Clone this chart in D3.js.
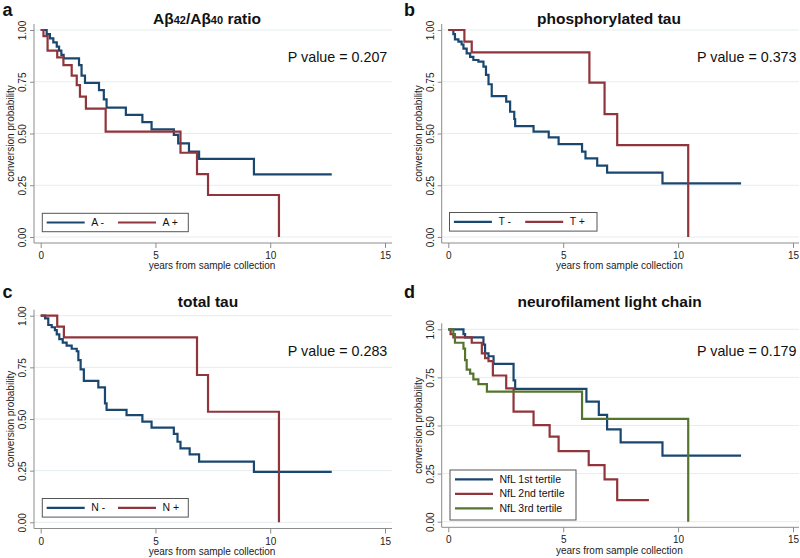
<!DOCTYPE html>
<html>
<head>
<meta charset="utf-8">
<script src="https://cdn.jsdelivr.net/npm/d3@7"></script>
<style>
body { margin: 0; background: #fff; }
svg { display: block; font-family: "Liberation Sans", Arial, sans-serif; }
</style>
</head>
<body>
<svg width="800" height="558"></svg>
<script>
// Kaplan-Meier steps, [years, conversion probability]

// a: Abeta42/40
var aNeg = [[0,1],[0.26,0.98],[0.4,0.96],[0.55,0.94],[0.7,0.92],[0.8,0.9],[0.9,0.88],[1.0,0.863],
    [1.67,0.83],[1.78,0.78],[1.93,0.745],[2.54,0.71],[2.75,0.665],[2.87,0.625],[3.71,0.59],
    [4.43,0.555],[4.83,0.52],[5.8,0.493],[5.99,0.452],[6.46,0.412],[6.9,0.377],[9.29,0.303],[12.68,0.303]];
var aPos = [[0,1],[0.12,0.97],[0.3,0.9],[0.72,0.868],[0.99,0.83],[1.35,0.78],[1.57,0.734],
    [1.71,0.678],[1.97,0.62],[2.83,0.509],[6.09,0.407],[6.81,0.304],[7.29,0.203],[10.38,0]];

// b: phosphorylated tau
var bNeg = [[0,1],[0.22,0.98],[0.29,0.955],[0.44,0.944],[0.58,0.93],[0.66,0.91],[0.8,0.887],[0.95,0.87],
    [1.09,0.855],[1.31,0.847],[1.53,0.823],[1.64,0.783],[1.75,0.738],[1.89,0.681],[2.52,0.654],
    [2.69,0.605],[2.87,0.57],[2.91,0.536],[3.71,0.509],[4.37,0.481],[4.8,0.449],[5.82,0.412],
    [5.97,0.38],[6.48,0.345],[6.91,0.311],[9.32,0.259],[12.74,0.259]];
var bPos = [[0,1],[0.7,0.944],[1.02,0.892],[6.14,0.746],[6.8,0.594],[7.35,0.444],[10.44,0]];

// c: total tau
var cNeg = [[0,1],[0.19,0.987],[0.33,0.955],[0.48,0.944],[0.62,0.93],[0.7,0.91],[0.81,0.887],[0.96,0.87],
    [1.13,0.855],[1.35,0.84],[1.57,0.828],[1.64,0.785],[1.74,0.74],[1.88,0.685],[2.51,0.653],
    [2.8,0.576],[2.87,0.544],[3.74,0.519],[4.43,0.487],[4.83,0.458],[5.8,0.428],[5.96,0.39],
    [6.09,0.358],[6.49,0.329],[6.9,0.294],[9.29,0.244],[12.68,0.244]];
var cPos = [[0,1],[0.72,0.947],[1.01,0.895],[6.81,0.713],[7.29,0.535],[10.38,0]];

// d: NfL tertiles
var dFirst = [[0,1],[0.66,0.975],[0.73,0.958],[1.53,0.92],[1.6,0.875],[1.75,0.86],[1.97,0.82],
    [2.84,0.735],[2.91,0.69],[6.01,0.624],[6.55,0.555],[6.91,0.48],[7.5,0.412],[9.32,0.343],[12.74,0.343]];
var dSecond = [[0,1],[0.1,0.975],[0.22,0.958],[1.02,0.93],[1.46,0.875],[1.6,0.85],[1.75,0.835],
    [1.94,0.76],[2.52,0.693],[2.84,0.572],[3.71,0.502],[4.41,0.442],[4.8,0.367],[6.11,0.294],
    [6.8,0.22],[7.35,0.112],[8.73,0.112]];
var dThird = [[0,1],[0.22,0.975],[0.29,0.93],[0.66,0.9],[0.73,0.84],[0.8,0.79],[0.95,0.77],
    [1.09,0.74],[1.31,0.715],[1.68,0.676],[5.82,0.534],[10.44,0]];

var pValues = ["0.207", "0.373", "0.283", "0.179"];
var xTicks = [0, 5, 10, 15];
var yTicks = [0, 0.25, 0.5, 0.75, 1];

var blue = "#1a476f", red = "#90353b", green = "#55752f";

var panels = [
    { letter: "a", title: "ab", left: 34, right: 392, x0: 40.7, x15: 385, yTop: 30, yBot: 237, axisY: 243,
      titleX: 207, titleY: 24, letterY: 16, pY: 61.7,
      series: [{name: "A -", data: aNeg, color: blue}, {name: "A +", data: aPos, color: red}],
      legend: {x: 42.3, y: 213.3, w: 146, h: 18.4, horizontal: true} },
    { letter: "b", title: "phosphorylated tau", left: 441.7, right: 799, x0: 448.3, x15: 793, yTop: 30, yBot: 237, axisY: 243,
      titleX: 609, titleY: 24, letterY: 16, pY: 61.7,
      series: [{name: "T -", data: bNeg, color: blue}, {name: "T +", data: bPos, color: red}],
      legend: {x: 449.5, y: 212.5, w: 147.5, h: 18.6, horizontal: true} },
    { letter: "c", title: "total tau", left: 34, right: 392, x0: 40.7, x15: 385, yTop: 315.7, yBot: 522.3, axisY: 528.5,
      titleX: 208, titleY: 306.5, letterY: 298, pY: 356,
      series: [{name: "N -", data: cNeg, color: blue}, {name: "N +", data: cPos, color: red}],
      legend: {x: 42.3, y: 498.5, w: 146, h: 18.6, horizontal: true} },
    { letter: "d", title: "neurofilament light chain", left: 441.7, right: 799, x0: 448.3, x15: 793, yTop: 329.3, yBot: 521.7, axisY: 527.3,
      titleX: 609.6, titleY: 306.5, letterY: 298, pY: 356,
      series: [{name: "NfL 1st tertile", data: dFirst, color: blue},
               {name: "NfL 2nd tertile", data: dSecond, color: red},
               {name: "NfL 3rd tertile", data: dThird, color: green}],
      legend: {x: 450, y: 470, w: 126, h: 50, horizontal: false} }
];

var svg = d3.select("svg");

panels.forEach(function(p, i) {
    var g = svg.append("g");
    var x = d3.scaleLinear().domain([0, 15]).range([p.x0, p.x15]);
    var y = d3.scaleLinear().domain([0, 1]).range([p.yBot, p.yTop]);

    // gridlines
    g.selectAll(".grid")
        .data(yTicks)
        .enter()
        .append("line")
        .attr("x1", p.left).attr("x2", p.right)
        .attr("y1", function(d) { return y(d); })
        .attr("y2", function(d) { return y(d); })
        .attr("stroke", "#e4edf0").attr("stroke-width", 1);

    // y axis
    var ya = g.append("g")
        .attr("transform", "translate(" + p.left + ",0)")
        .call(d3.axisLeft(y).tickValues(yTicks).tickFormat(d3.format(".2f")).tickSize(4).tickSizeOuter(0));
    ya.select(".domain").remove();
    ya.selectAll(".tick line").attr("stroke", "#8c8c8c");
    ya.selectAll(".tick text")
        .attr("x", 0).attr("dy", 0)
        .attr("transform", "translate(-7.8,0) rotate(-90)")
        .attr("text-anchor", "middle")
        .attr("font-size", "10px").attr("fill", "#222")
        .attr("font-family", "Liberation Sans, Arial, sans-serif");
    g.append("line")
        .attr("x1", p.left).attr("x2", p.left)
        .attr("y1", p.yTop - 6).attr("y2", p.axisY)
        .attr("stroke", "#8c8c8c");

    // x axis
    var xa = g.append("g")
        .attr("transform", "translate(0," + p.axisY + ")")
        .call(d3.axisBottom(x).tickValues(xTicks).tickSize(5).tickSizeOuter(0));
    xa.select(".domain").remove();
    xa.selectAll(".tick line").attr("stroke", "#8c8c8c");
    xa.selectAll(".tick text")
        .attr("y", 16).attr("dy", 0)
        .attr("font-size", "10px").attr("fill", "#222")
        .attr("font-family", "Liberation Sans, Arial, sans-serif");
    g.append("line")
        .attr("x1", p.left).attr("x2", p.right)
        .attr("y1", p.axisY).attr("y2", p.axisY)
        .attr("stroke", "#8c8c8c");

    // axis titles
    g.append("text")
        .attr("x", (p.left + p.right) / 2 - 1)
        .attr("y", p.axisY + 26.2)
        .attr("text-anchor", "middle")
        .attr("font-size", "10px").attr("fill", "#222")
        .text("years from sample collection");
    g.append("text")
        .attr("transform", "translate(" + (p.left - 19.8) + "," + ((p.yTop + p.yBot) / 2) + ") rotate(-90)")
        .attr("text-anchor", "middle")
        .attr("font-size", "10px").attr("fill", "#222")
        .text("conversion probability");

    // curves
    var line = d3.line()
        .x(function(d) { return x(d[0]); })
        .y(function(d) { return y(d[1]); })
        .curve(d3.curveStepAfter);
    g.selectAll(".km")
        .data(p.series)
        .enter()
        .append("path")
        .attr("d", function(s) { return line(s.data); })
        .attr("fill", "none")
        .attr("stroke", function(s) { return s.color; })
        .attr("stroke-width", 2.2);

    // legend
    var lg = p.legend;
    g.append("rect")
        .attr("x", lg.x).attr("y", lg.y).attr("width", lg.w).attr("height", lg.h)
        .attr("fill", "#fff").attr("stroke", "#555").attr("stroke-width", 1);
    p.series.forEach(function(s, k) {
        var lx, ly;
        if (lg.horizontal) {
            lx = lg.x + 4.4 + k * 71.3;
            ly = lg.y + lg.h / 2;
        } else {
            lx = lg.x + 5;
            ly = lg.y + 9.3 + k * 14.5;
        }
        g.append("line")
            .attr("x1", lx).attr("x2", lx + 38)
            .attr("y1", ly).attr("y2", ly)
            .attr("stroke", s.color).attr("stroke-width", 2.2);
        g.append("text")
            .attr("x", lx + 44.5).attr("y", ly + 3.6)
            .attr("font-size", "10.5px").attr("fill", "#111")
            .text(s.name);
    });

    // p value
    g.append("text")
        .attr("x", p.right === 392 ? 387.3 : 796.5)
        .attr("y", p.pY)
        .attr("text-anchor", "end")
        .attr("font-size", "14.3px").attr("fill", "#111")
        .text("P value = " + pValues[i]);

    // title
    var t = g.append("text")
        .attr("x", p.titleX).attr("y", p.titleY)
        .attr("text-anchor", "middle")
        .attr("font-size", "15.5px").attr("font-weight", "bold").attr("fill", "#111");
    if (p.title === "ab") {
        t.append("tspan").text("A\u03b2");
        t.append("tspan").attr("font-size", "11px").text("42");
        t.append("tspan").text("/A\u03b2");
        t.append("tspan").attr("font-size", "11px").text("40");
        t.append("tspan").text(" ratio");
    } else {
        t.text(p.title);
    }

    // panel letter
    g.append("text")
        .attr("x", p.right === 392 ? 2.5 : 404)
        .attr("y", p.letterY)
        .attr("font-size", "18px").attr("font-weight", "bold").attr("fill", "#111")
        .text(p.letter);
});
</script>
</body>
</html>
